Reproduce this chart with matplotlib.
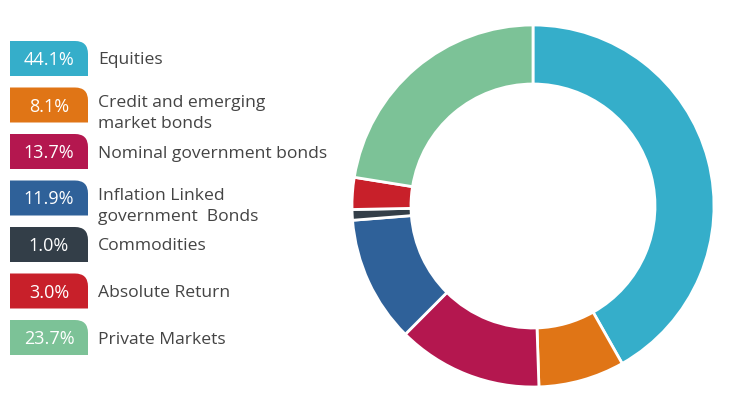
import matplotlib.pyplot as plt
from matplotlib.path import Path
from matplotlib.patches import PathPatch

# data
labels = ['Equities', 'Credit and emerging\nmarket bonds', 'Nominal government bonds',
          'Inflation Linked\ngovernment  Bonds', 'Commodities', 'Absolute Return',
          'Private Markets']
values = [44.1, 8.1, 13.7, 11.9, 1.0, 3.0, 23.7]
colors = ['#35AECA', '#E07516', '#B4174F', '#2F6199', '#333E48', '#C8202A', '#7CC297']

W, H = 732, 407
fig = plt.figure(figsize=(W / 100, H / 100), dpi=100)
ax = fig.add_axes([0, 0, 1, 1])

# donut (pixel coords, y up)
ax.pie(values, colors=colors, startangle=90, counterclock=False,
       center=(533, H - 206), radius=181,
       wedgeprops=dict(width=59, edgecolor='white', linewidth=2))

def tab(x0, top, w=78, h=35, r=13):
    y0 = H - top - h
    y1 = H - top
    x1 = x0 + w
    verts = [(x0, y0), (x1, y0), (x1, y1 - r), (x1, y1), (x1 - r, y1), (x0, y1), (x0, y0)]
    codes = [Path.MOVETO, Path.LINETO, Path.LINETO, Path.CURVE3, Path.CURVE3,
             Path.LINETO, Path.CLOSEPOLY]
    return Path(verts, codes)

font = 'Open Sans'
for i, (lab, v, c) in enumerate(zip(labels, values, colors)):
    top = 41 + i * 46.5
    ax.add_patch(PathPatch(tab(10, top), facecolor=c, edgecolor='none'))
    ax.text(49, H - top - 19, f'{v:.1f}%', color='white', fontsize=13,
            ha='center', va='center', family=font)
    ty = H - top - 19.5
    if '\n' in lab:
        ty -= 6.5
    ax.text(98, ty, lab, color='#444444', fontsize=12.6, ha='left', va='center',
            family=font, linespacing=1.45)

ax.set_xlim(0, W)
ax.set_ylim(0, H)
ax.set_aspect('auto')
ax.axis('off')
fig.savefig('out.png', dpi=100)
